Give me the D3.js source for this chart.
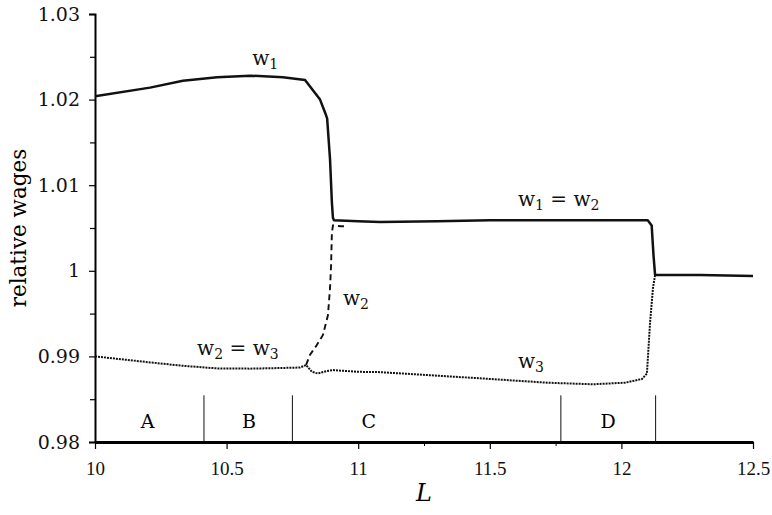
<!DOCTYPE html>
<html>
<head>
<meta charset="utf-8">
<script src="https://cdn.jsdelivr.net/npm/d3@7"></script>
<style>
  body { margin: 0; background: #fff; }
  svg { font-family: "DejaVu Serif", serif; }
</style>
</head>
<body>
<div id="vis"></div>
<script>
// w1 (solid), continues as w1 = w2 after the jump
const w1X = [10.0, 10.209, 10.334, 10.464, 10.589, 10.714, 10.798, 10.828, 10.855, 10.874, 10.882, 10.893, 10.900, 10.904, 10.908, 11.0, 11.083, 11.3, 11.5, 11.717, 11.9, 12.10, 12.115, 12.122, 12.128, 12.3, 12.5];
const w1Y = [1.0204, 1.0214, 1.0222, 1.0226, 1.0228, 1.0226, 1.0223, 1.0211, 1.0200, 1.0185, 1.0178, 1.0130, 1.0080, 1.0062, 1.0059, 1.0058, 1.0057, 1.0058, 1.0059, 1.0059, 1.0059, 1.0059, 1.0053, 1.0018, 0.9995, 0.9995, 0.9994];

// w2 (dashed) branch
const w2X = [10.802, 10.817, 10.840, 10.866, 10.885, 10.893, 10.897, 10.900, 10.904, 10.935, 10.961];
const w2Y = [0.9890, 0.9902, 0.9912, 0.9925, 0.9948, 0.9980, 1.0007, 1.0044, 1.0053, 1.0052, 1.0052];

// w3 (dotted), w2 = w3 before the split
const w3X = [10.0, 10.209, 10.334, 10.464, 10.589, 10.714, 10.779, 10.802, 10.824, 10.847, 10.881, 10.904, 10.999, 11.083, 11.463, 11.717, 11.892, 12.014, 12.078, 12.097, 12.109, 12.120, 12.128];
const w3Y = [0.9900, 0.9893, 0.9889, 0.9886, 0.98857, 0.98865, 0.9887, 0.9890, 0.9882, 0.9880, 0.9883, 0.9884, 0.9882, 0.98816, 0.98744, 0.98693, 0.98674, 0.98693, 0.98736, 0.9880, 0.9940, 0.9980, 0.9995];

const yTicks = [0.98, 0.99, 1, 1.01, 1.02, 1.03];
const yMinor = [0.985, 0.995, 1.005, 1.015, 1.025];
const xTicks = [10, 10.5, 11, 11.5, 12, 12.5];
const xMinor = [11.25, 11.75];

const regionBounds = [10.414, 10.75, 11.77, 12.13];
const regionNames = ["A", "B", "C", "D"];
const regionCenters = [10.2, 10.585, 11.04, 11.95];

const WIDTH = 772, HEIGHT = 515;
const MARGINS = {left: 95, right: 19, top: 14, bottom: 73};

const svg = d3.select("#vis").append("svg")
  .attr("width", WIDTH).attr("height", HEIGHT);

const X = d3.scaleLinear().domain([10, 12.5]).range([MARGINS.left, WIDTH - MARGINS.right]);
const Y = d3.scaleLinear().domain([0.98, 1.03]).range([HEIGHT - MARGINS.bottom, MARGINS.top]);

// y axis
const yAxis = svg.append("g")
  .attr("transform", "translate(" + MARGINS.left + ",0)")
  .call(d3.axisLeft(Y).tickValues(yTicks).tickSize(6).tickPadding(9)
        .tickFormat(d => d === 1 ? "1" : d3.format(".2f")(d)));
yAxis.select(".domain").attr("stroke-width", 2);
yAxis.selectAll("text").attr("font-size", 19).attr("font-family", "DejaVu Serif").attr("fill", "#111");
yAxis.selectAll(".tick line").attr("stroke-width", 1.2);
svg.append("g")
  .attr("transform", "translate(" + MARGINS.left + ",0)")
  .call(d3.axisLeft(Y).tickValues(yMinor).tickSize(5).tickFormat(""))
  .call(g => g.select(".domain").remove())
  .selectAll("line").attr("stroke-width", 1.2);

// x axis
const xAxis = svg.append("g")
  .attr("transform", "translate(0," + Y(0.98) + ")")
  .call(d3.axisBottom(X).tickValues(xTicks).tickSize(7).tickPadding(13).tickSizeOuter(0)
        .tickFormat(d3.format("")));
xAxis.select(".domain").attr("stroke-width", 2.8);
xAxis.selectAll("text").attr("font-size", 19).attr("font-family", "Liberation Serif").attr("fill", "#111");
xAxis.selectAll(".tick line").attr("stroke-width", 1.2);
svg.append("g")
  .attr("transform", "translate(0," + Y(0.98) + ")")
  .call(d3.axisBottom(X).tickValues(xMinor).tickSize(4).tickFormat(""))
  .call(g => g.select(".domain").remove())
  .selectAll("line").attr("stroke-width", 1);

// axis titles
svg.append("text")
  .attr("transform", "translate(26," + Y(1.005) + ") rotate(-90)")
  .attr("text-anchor", "middle")
  .attr("font-size", 21.5)
  .text("relative wages");
svg.append("text")
  .attr("x", X(11.25)).attr("y", 501)
  .attr("text-anchor", "middle")
  .attr("font-size", 24).attr("font-style", "italic")
  .text("L");

// region dividers
svg.selectAll(".divider").data(regionBounds).enter()
  .append("line")
  .attr("x1", d => X(d)).attr("x2", d => X(d))
  .attr("y1", Y(0.98)).attr("y2", Y(0.98545))
  .attr("stroke", "#111").attr("stroke-width", 1);
svg.selectAll(".region").data(regionNames).enter()
  .append("text")
  .attr("x", (d, i) => X(regionCenters[i]))
  .attr("y", Y(0.98) - 14)
  .attr("text-anchor", "middle")
  .attr("font-size", 19)
  .text(d => d);

// curves
const line = d3.line().x(d => X(d[0])).y(d => Y(d[1]));
svg.append("path")
  .datum(d3.zip(w3X, w3Y))
  .attr("d", line).attr("fill", "none")
  .attr("stroke", "#111").attr("stroke-width", 2)
  .attr("stroke-dasharray", "2,1");
svg.append("path")
  .datum(d3.zip(w2X, w2Y))
  .attr("d", line).attr("fill", "none")
  .attr("stroke", "#111").attr("stroke-width", 1.9)
  .attr("stroke-dasharray", "6,4");
svg.append("path")
  .datum(d3.zip(w1X, w1Y))
  .attr("d", line).attr("fill", "none")
  .attr("stroke", "#111").attr("stroke-width", 2.5)
  .attr("stroke-linejoin", "round");

// curve labels: parts are [text, isSubscript]
const labels = [
  {x: 10.597, y: 1.0240, parts: [["w", 0], ["1", 1]]},
  {x: 11.607, y: 1.00757, parts: [["w", 0], ["1", 1], [" = w", 0], ["2", 1]]},
  {x: 10.388, y: 0.99016, parts: [["w", 0], ["2", 1], [" = w", 0], ["3", 1]]},
  {x: 10.942, y: 0.9960, parts: [["w", 0], ["2", 1]]},
  {x: 11.607, y: 0.98864, parts: [["w", 0], ["3", 1]]}
];
labels.forEach(l => {
  const t = svg.append("text")
    .attr("x", X(l.x)).attr("y", Y(l.y))
    .attr("font-size", 20).attr("fill", "#111");
  l.parts.forEach(p => {
    t.append("tspan")
      .attr("font-size", p[1] ? 14 : 20)
      .attr("dy", p[1] ? 4 : -4)
      .text(p[0]);
  });
  t.select("tspan").attr("dy", 0);
});
</script>
</body>
</html>
